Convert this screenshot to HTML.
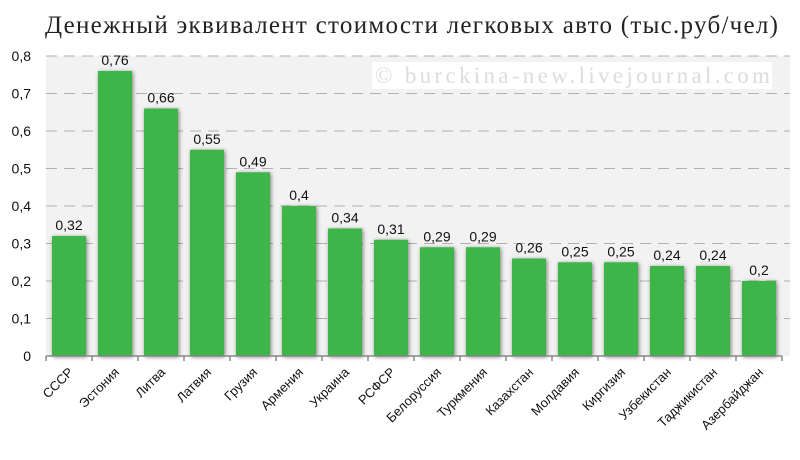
<!DOCTYPE html>
<html><head><meta charset="utf-8"><style>
body{margin:0;background:#fff}
svg{display:block}
</style></head><body>
<svg id="chart" width="800" height="460" xmlns="http://www.w3.org/2000/svg">
<defs><filter id="sh" x="-20%" y="-10%" width="140%" height="120%"><feGaussianBlur in="SourceAlpha" stdDeviation="2"/><feOffset dx="1" dy="1"/><feComponentTransfer><feFuncA type="linear" slope="0.5"/></feComponentTransfer><feMerge><feMergeNode/><feMergeNode in="SourceGraphic"/></feMerge></filter></defs>
<text x="45" y="33" textLength="733" lengthAdjust="spacing" font-family="Liberation Serif, serif" font-size="25" fill="#222">Денежный эквивалент стоимости легковых авто (тыс.руб/чел)</text>
<rect x="46" y="56" width="744" height="300" fill="#f2f2f2"/>
<g id="grid"></g>
<rect x="372" y="62" width="400" height="27" fill="#fff"/>
<text x="375" y="83" textLength="395" lengthAdjust="spacing" font-family="Liberation Serif, serif" font-size="23" fill="#dcdcdc">© burckina-new.livejournal.com</text>
<g id="bars"></g>
<g id="axes"></g>
</svg>
<script>
const categories=["СССР","Эстония","Литва","Латвия","Грузия","Армения","Украина","РСФСР","Белоруссия","Туркмения","Казахстан","Молдавия","Киргизия","Узбекистан","Таджикистан","Азербайджан"];
const values=[0.32,0.76,0.66,0.55,0.49,0.4,0.34,0.31,0.29,0.29,0.26,0.25,0.25,0.24,0.24,0.2];
const valueLabels=["0,32","0,76","0,66","0,55","0,49","0,4","0,34","0,31","0,29","0,29","0,26","0,25","0,25","0,24","0,24","0,2"];
const yTicks=[0,0.1,0.2,0.3,0.4,0.5,0.6,0.7,0.8];
const yTickLabels=["0","0,1","0,2","0,3","0,4","0,5","0,6","0,7","0,8"];
const NS="http://www.w3.org/2000/svg";
const x0=46,x1=790,xc1=782,y0=356,yTop=56,yMax=0.8;
const bw=(xc1-x0)/categories.length;
const y=v=>y0-(v/yMax)*(y0-yTop);
const xc=i=>x0+bw*(i+0.5);
function mk(tag,parent,attrs){const e=document.createElementNS(NS,tag);for(const k in attrs)e.setAttribute(k,attrs[k]);parent.appendChild(e);return e;}
const grid=document.getElementById('grid'),bars=document.getElementById('bars'),axes=document.getElementById('axes');
yTicks.forEach((t,i)=>{
  if(t>0){const l=mk('line',grid,{x1:x0,x2:x1,y1:y(t),y2:y(t),stroke:'#b0b0b0','stroke-width':1,'stroke-dasharray':'11,7'});
  
  }
  const tx=mk('text',axes,{x:31,y:y(t)+5,'text-anchor':'end','font-family':'Liberation Sans, sans-serif','font-size':14,fill:'#111'});
  tx.textContent=yTickLabels[i];
  
  
});
const ax=mk('line',axes,{x1:x0,x2:xc1,y1:y0,y2:y0,stroke:'#888','stroke-width':1.5});


categories.forEach((c,i)=>{
  const bx=xc(i)-17;
  const r=mk('rect',bars,{x:bx,y:y(values[i]),width:34,height:y0-y(values[i]),fill:'#3cb54a',filter:'url(#sh)'});
  
  
  const lt=mk('text',bars,{x:xc(i),y:y(values[i])-6,'text-anchor':'middle','font-family':'Liberation Sans, sans-serif','font-size':14,fill:'#111'});
  lt.textContent=valueLabels[i];
  
  
  const tk=mk('line',axes,{x1:x0+bw*i,x2:x0+bw*i,y1:y0,y2:y0+5,stroke:'#888','stroke-width':1.5});
  
  
  const cx=xc(i)+5,cy=y0+17;
  const ct=mk('text',axes,{x:cx,y:cy,'text-anchor':'end','font-family':'Liberation Sans, sans-serif','font-size':13,fill:'#111',transform:`rotate(-45 ${cx} ${cy})`});
  ct.textContent=c;
  
  
});
const lt=mk('line',axes,{x1:xc1,x2:xc1,y1:y0,y2:y0+5,stroke:'#888','stroke-width':1.5});


</script>
</body></html>
